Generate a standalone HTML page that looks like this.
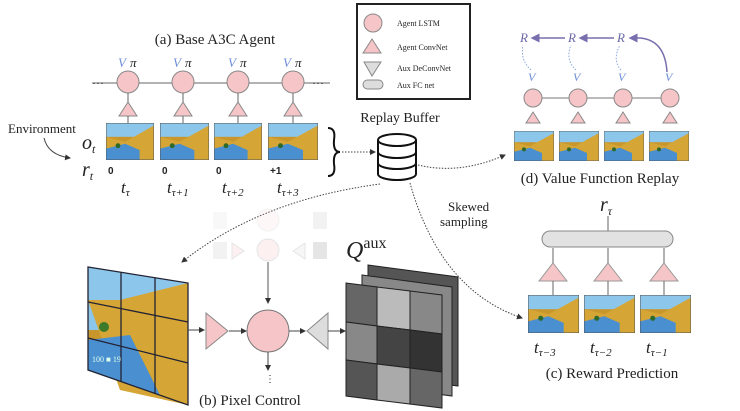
<!DOCTYPE html>
<html><head><meta charset="utf-8"><style>
html,body{margin:0;padding:0;background:#fff;width:740px;height:411px;overflow:hidden}
svg{display:block}
text{font-family:"Liberation Serif",serif;fill:#222}
.it{font-style:italic}
</style></head><body>
<svg width="740" height="411" viewBox="0 0 740 411" xmlns="http://www.w3.org/2000/svg">
<defs>
<symbol id="fr" viewBox="0 0 100 75" preserveAspectRatio="none">
<rect width="100" height="75" fill="#c8962a"/>
<rect width="100" height="28" fill="#8cc6ea"/>
<polygon points="0,28 40,38 100,5 100,75 0,75" fill="#d5a535"/>
<polygon points="0,52 40,42 70,55 70,75 0,75" fill="#4a8fd0"/>
<circle cx="25" cy="46" r="5" fill="#2d6a2a"/>
<rect x="0" y="0" width="100" height="75" fill="none" stroke="#555" stroke-width="2"/>
</symbol>
<marker id="ah" markerWidth="6" markerHeight="6" refX="5" refY="3" orient="auto"><path d="M0,0 L6,3 L0,6z" fill="#333"/></marker>
<marker id="ap" markerWidth="6" markerHeight="6" refX="5" refY="3" orient="auto"><path d="M0,0 L6,3 L0,6z" fill="#7a6fae"/></marker>
</defs>

<!-- (a) -->
<text x="215" y="44" font-size="15" text-anchor="middle">(a) Base A3C Agent</text>
<line x1="92" y1="83" x2="330" y2="83" stroke="#666" stroke-width="1"/>
<text x="92" y="87" font-size="12">···</text>
<text x="312" y="87" font-size="12">···</text>
<g fill="#f6c5c8" stroke="#888">
<circle cx="128" cy="82" r="11"/><circle cx="183" cy="82" r="11"/><circle cx="238" cy="82" r="11"/><circle cx="293" cy="82" r="11"/>
<polygon points="128,102 137,116 119,116"/><polygon points="183,102 192,116 174,116"/><polygon points="238,102 247,116 229,116"/><polygon points="293,102 302,116 284,116"/>
</g>
<g stroke="#666"><line x1="128" y1="123" x2="128" y2="116"/><line x1="183" y1="123" x2="183" y2="116"/><line x1="238" y1="123" x2="238" y2="116"/><line x1="293" y1="123" x2="293" y2="116"/>
<line x1="128" y1="102" x2="128" y2="93"/><line x1="183" y1="102" x2="183" y2="93"/><line x1="238" y1="102" x2="238" y2="93"/><line x1="293" y1="102" x2="293" y2="93"/></g>
<g font-size="13" class="it">
<text x="118" y="67" fill="#6f8fd8" style="fill:#6f8fd8">V</text><text x="130" y="67">π</text>
<text x="173" y="67" style="fill:#6f8fd8">V</text><text x="185" y="67">π</text>
<text x="228" y="67" style="fill:#6f8fd8">V</text><text x="240" y="67">π</text>
<text x="283" y="67" style="fill:#6f8fd8">V</text><text x="295" y="67">π</text>
</g>
<use href="#fr" x="106" y="123" width="48" height="37"/>
<use href="#fr" x="160" y="123" width="49" height="37"/>
<use href="#fr" x="214" y="123" width="48" height="37"/>
<use href="#fr" x="268" y="123" width="50" height="37"/>
<text x="8" y="133" font-size="13">Environment</text>
<path d="M44,138 Q48,155 70,158" fill="none" stroke="#444" marker-end="url(#ah)"/>
<text x="82" y="149" font-size="20" class="it">o<tspan font-size="12" dy="4">t</tspan></text>
<text x="82" y="176" font-size="20" class="it">r<tspan font-size="12" dy="4">t</tspan></text>
<g font-family="Liberation Sans" font-size="10" font-weight="bold">
<text x="108" y="174" style="font-family:'Liberation Sans',sans-serif">0</text><text x="162" y="174" style="font-family:'Liberation Sans',sans-serif">0</text><text x="216" y="174" style="font-family:'Liberation Sans',sans-serif">0</text><text x="270" y="174" style="font-family:'Liberation Sans',sans-serif">+1</text></g>
<g font-size="17" class="it">
<text x="121" y="193">t<tspan font-size="11" dy="3">τ</tspan></text>
<text x="167" y="193">t<tspan font-size="11" dy="3">τ+1</tspan></text>
<text x="222" y="193">t<tspan font-size="11" dy="3">τ+2</tspan></text>
<text x="277" y="193">t<tspan font-size="11" dy="3">τ+3</tspan></text>
</g>
<path d="M328,128 Q336,128 334,140 Q333,152 340,152 Q333,152 334,164 Q336,176 328,176" fill="none" stroke="#111" stroke-width="2"/>
<line x1="342" y1="152" x2="375" y2="152" stroke="#444" stroke-dasharray="1.5,1.5" marker-end="url(#ah)"/>

<!-- legend -->
<rect x="357" y="4" width="113" height="95" fill="#fff" stroke="#222" stroke-width="2"/>
<circle cx="373" cy="23" r="9" fill="#f6c5c8" stroke="#888"/>
<polygon points="372,39 381,53 363,53" fill="#f6c5c8" stroke="#888"/>
<polygon points="364,62 381,62 372,76" fill="#ddd" stroke="#888"/>
<rect x="363" y="80" width="20" height="9" rx="4.5" fill="#ddd" stroke="#888"/>
<g font-size="8"><text x="397" y="26">Agent LSTM</text><text x="397" y="50">Agent ConvNet</text><text x="397" y="71">Aux DeConvNet</text><text x="397" y="88">Aux FC net</text></g>

<!-- replay buffer -->
<text x="400" y="122" font-size="14" text-anchor="middle">Replay Buffer</text>
<g fill="#fff" stroke="#111" stroke-width="2">
<path d="M378,140 L378,174 A19,6 0 0 0 416,174 L416,140"/>
<ellipse cx="397" cy="140" rx="19" ry="6"/>
<path d="M378,152 A19,6 0 0 0 416,152" fill="none"/>
<path d="M378,163 A19,6 0 0 0 416,163" fill="none"/>
</g>
<path d="M418,165 Q460,175 505,155" fill="none" stroke="#444" stroke-dasharray="1.5,1.5" marker-end="url(#ah)"/>
<path d="M380,184 Q260,200 182,262" fill="none" stroke="#444" stroke-dasharray="1.5,1.5" marker-end="url(#ah)"/>
<path d="M410,183 Q440,290 522,318" fill="none" stroke="#444" stroke-dasharray="1.5,1.5" marker-end="url(#ah)"/>
<text x="448" y="211" font-size="13">Skewed</text>
<text x="440" y="226" font-size="13">sampling</text>

<!-- (d) -->
<line x1="533" y1="98" x2="670" y2="98" stroke="#777"/>
<g fill="#f6c5c8" stroke="#888">
<circle cx="533" cy="98" r="9"/><circle cx="578" cy="98" r="9"/><circle cx="623" cy="98" r="9"/><circle cx="670" cy="98" r="9"/>
<polygon points="533,112 540,123 526,123"/><polygon points="578,112 585,123 571,123"/><polygon points="623,112 630,123 616,123"/><polygon points="670,112 677,123 663,123"/>
</g>
<use href="#fr" x="514" y="131" width="40" height="30"/>
<use href="#fr" x="559" y="131" width="40" height="30"/>
<use href="#fr" x="604" y="131" width="40" height="30"/>
<use href="#fr" x="649" y="131" width="40" height="30"/>
<g font-size="12" class="it" style="fill:#6f8fd8">
<text x="528" y="81" style="fill:#6f8fd8">V</text><text x="573" y="81" style="fill:#6f8fd8">V</text><text x="618" y="81" style="fill:#6f8fd8">V</text><text x="665" y="81" style="fill:#6f8fd8">V</text>
</g>
<g font-size="13" class="it"><text x="520" y="42" style="fill:#6a6aa8">R</text><text x="568" y="42" style="fill:#6a6aa8">R</text><text x="617" y="42" style="fill:#6a6aa8">R</text></g>
<g fill="none" stroke="#7a6fae" stroke-width="1.5">
<line x1="565" y1="38" x2="532" y2="38" marker-end="url(#ap)"/>
<line x1="614" y1="38" x2="580" y2="38" marker-end="url(#ap)"/>
<path d="M667,72 Q665,40 640,38 L630,38" marker-end="url(#ap)"/>
</g>
<g fill="none" stroke="#8aa6dd" stroke-dasharray="1.5,1.5">
<path d="M531,70 Q520,60 523,45"/><path d="M576,70 Q565,60 571,45"/><path d="M621,70 Q612,60 620,45"/>
</g>
<text x="600" y="183" font-size="15" text-anchor="middle">(d) Value Function Replay</text>

<!-- (c) -->
<text x="600" y="211" font-size="20" class="it">r<tspan font-size="12" dy="4">τ</tspan></text>
<line x1="608" y1="231" x2="608" y2="216" stroke="#666"/>
<rect x="542" y="231" width="131" height="16" rx="8" fill="#e2e2e2" stroke="#888"/>
<g fill="#f6c5c8" stroke="#999">
<polygon points="553,263 567,281 539,281"/><polygon points="608,263 622,281 594,281"/><polygon points="664,263 678,281 650,281"/>
</g>
<g stroke="#666"><line x1="553" y1="295" x2="553" y2="281"/><line x1="608" y1="295" x2="608" y2="281"/><line x1="664" y1="295" x2="664" y2="281"/>
<line x1="553" y1="263" x2="553" y2="248"/><line x1="608" y1="263" x2="608" y2="248"/><line x1="664" y1="263" x2="664" y2="248"/></g>
<use href="#fr" x="528" y="295" width="51" height="38"/>
<use href="#fr" x="584" y="295" width="51" height="38"/>
<use href="#fr" x="640" y="295" width="51" height="38"/>
<g font-size="17" class="it">
<text x="534" y="353">t<tspan font-size="11" dy="3">τ−3</tspan></text>
<text x="590" y="353">t<tspan font-size="11" dy="3">τ−2</tspan></text>
<text x="646" y="353">t<tspan font-size="11" dy="3">τ−1</tspan></text>
</g>
<text x="612" y="378" font-size="15" text-anchor="middle">(c) Reward Prediction</text>

<!-- (b) big frame -->
<polygon points="88,267 188,283 188,405 88,370" fill="#c8962a"/>
<polygon points="88,267 188,283 188,300 120,330 88,330" fill="#8cc6ea"/>
<polygon points="88,300 120,300 188,283 188,405 120,390" fill="#d5a535"/>
<polygon points="88,340 130,335 160,395 88,370" fill="#4a8fd0"/>
<circle cx="104" cy="327" r="5" fill="#3d7a2a"/>
<g stroke="#223" stroke-width="1.3" fill="none">
<polygon points="88,267 188,283 188,405 88,370"/>
<line x1="121" y1="272" x2="121" y2="382"/><line x1="155" y1="278" x2="155" y2="394"/>
<line x1="88" y1="302" x2="188" y2="322"/><line x1="88" y1="338" x2="188" y2="363"/>
</g>
<text x="92" y="362" font-size="8" style="fill:#dfe">100 ■ 19</text>

<!-- faded -->
<g opacity="0.25">
<rect x="213" y="242" width="14" height="17" fill="#ccc"/>
<polygon points="232,243 244,251 232,259" fill="#f6c5c8" stroke="#999"/>
<circle cx="268" cy="250" r="11" fill="#f6c5c8" stroke="#999"/>
<polygon points="305,243 293,251 305,259" fill="#ddd" stroke="#999"/>
<rect x="313" y="242" width="14" height="17" fill="#999"/>
</g>
<g opacity="0.12">
<circle cx="268" cy="220" r="11" fill="#f6c5c8" stroke="#999"/>
<rect x="213" y="212" width="14" height="17" fill="#ccc"/>
<rect x="313" y="212" width="14" height="17" fill="#999"/>
</g>
<line x1="268" y1="262" x2="268" y2="303" stroke="#555" marker-end="url(#ah)"/>

<line x1="188" y1="330" x2="204" y2="330" stroke="#444" marker-end="url(#ah)"/>
<polygon points="206,313 228,331 206,349" fill="#f6c5c8" stroke="#888"/>
<line x1="229" y1="331" x2="246" y2="331" stroke="#444" marker-end="url(#ah)"/>
<circle cx="268" cy="331" r="21" fill="#f6c5c8" stroke="#777"/>
<line x1="289" y1="331" x2="305" y2="331" stroke="#444" marker-end="url(#ah)"/>
<polygon points="328,313 307,331 328,349" fill="#ddd" stroke="#888"/>
<line x1="328" y1="331" x2="345" y2="331" stroke="#444" marker-end="url(#ah)"/>
<line x1="268" y1="352" x2="268" y2="370" stroke="#444" marker-end="url(#ah)"/>
<text x="265" y="382" font-size="10">⋮</text>
<text x="250" y="405" font-size="15" text-anchor="middle">(b) Pixel Control</text>

<!-- Q aux -->
<text x="346" y="258" font-size="24" class="it">Q<tspan font-size="16" dy="-10" font-style="normal">aux</tspan></text>
<polygon points="368,265 458,277 458,386 368,374" fill="#555" stroke="#222"/>
<polygon points="362,275 452,287 452,396 362,384" fill="#888" stroke="#222"/>
<g stroke="#222">
<polygon points="346,283 377,287 377,326 346,322" fill="#666"/>
<polygon points="377,287 410,291 410,330 377,326" fill="#bbb"/>
<polygon points="410,291 442,295 442,334 410,330" fill="#888"/>
<polygon points="346,322 377,326 377,364 346,360" fill="#888"/>
<polygon points="377,326 410,330 410,368 377,364" fill="#444"/>
<polygon points="410,330 442,334 442,372 410,368" fill="#333"/>
<polygon points="346,360 377,364 377,400 346,396" fill="#555"/>
<polygon points="377,364 410,368 410,404 377,400" fill="#aaa"/>
<polygon points="410,368 442,372 442,408 410,404" fill="#666"/>
</g>
</svg>
</body></html>
